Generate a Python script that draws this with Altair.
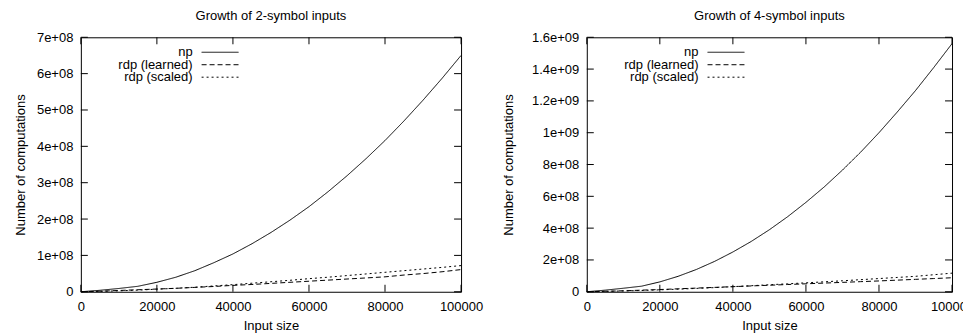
import altair as alt
import pandas as pd

FONT = "Liberation Sans"

x_vals = [0, 5000, 10000, 15000, 20000, 25000, 30000, 35000, 40000, 45000, 50000,
          55000, 60000, 65000, 70000, 75000, 80000, 85000, 90000, 95000, 100000]

# 2-symbol inputs
np_2 = [0, 4e6, 9e6, 1.5e7, 2.6e7, 4.0e7, 5.8e7, 8.0e7, 1.04e8, 1.32e8, 1.63e8,
        1.97e8, 2.34e8, 2.75e8, 3.19e8, 3.66e8, 4.16e8, 4.70e8, 5.27e8, 5.87e8, 6.50e8]
learned_2 = [0, 1.5e6, 3.5e6, 5.5e6, 7.5e6, 9.5e6, 1.2e7, 1.45e7, 1.75e7, 2.0e7, 2.3e7,
             2.6e7, 2.9e7, 3.2e7, 3.5e7, 3.8e7, 4.1e7, 4.6e7, 5.0e7, 5.5e7, 6.1e7]
scaled_2 = [0, 1e6, 2.5e6, 4.5e6, 7e6, 9.5e6, 1.25e7, 1.6e7, 1.95e7, 2.35e7, 2.75e7,
            3.15e7, 3.6e7, 4.0e7, 4.45e7, 4.9e7, 5.35e7, 5.8e7, 6.25e7, 6.7e7, 7.2e7]

# 4-symbol inputs
np_4 = [0, 1.0e7, 2.2e7, 3.5e7, 6.2e7, 9.7e7, 1.40e8, 1.91e8, 2.50e8, 3.16e8, 3.90e8,
        4.72e8, 5.62e8, 6.59e8, 7.65e8, 8.78e8, 1.0e9, 1.13e9, 1.265e9, 1.41e9, 1.56e9]
learned_4 = [0, 3e6, 6e6, 1.0e7, 1.4e7, 1.85e7, 2.3e7, 2.75e7, 3.2e7, 3.65e7, 4.1e7,
             4.55e7, 5.0e7, 5.45e7, 5.9e7, 6.35e7, 6.8e7, 7.3e7, 7.8e7, 8.3e7, 8.8e7]
scaled_4 = [0, 2e6, 5e6, 8e6, 1.2e7, 1.6e7, 2.1e7, 2.6e7, 3.2e7, 3.8e7, 4.4e7,
            5.0e7, 5.6e7, 6.25e7, 6.9e7, 7.6e7, 8.3e7, 9.0e7, 9.7e7, 1.07e8, 1.17e8]

series_names = ["np", "rdp (learned)", "rdp (scaled)"]
dash_styles = [[1, 0], [5, 3], [2, 3]]

x_ticks = [0, 20000, 40000, 60000, 80000, 100000]
y_ticks_2 = [0, 1e8, 2e8, 3e8, 4e8, 5e8, 6e8, 7e8]
y_ticks_4 = [0, 2e8, 4e8, 6e8, 8e8, 1e9, 1.2e9, 1.4e9, 1.6e9]

H = 255
TICK = 7
LABEL_EXPR = "datum.value == 0 ? '0' : replace(format(datum.value, '.2~e'), 'e+', 'e+0')"


def panel(title, series, y_ticks, ymax, W, ytitle_pad):
    rows = []
    for name, vals in zip(series_names, series):
        for xv, yv in zip(x_vals, vals):
            rows.append({"x": xv, "y": yv, "series": name})
    df = pd.DataFrame(rows)
    xs = alt.Scale(domain=[0, 100000], nice=False, zero=False)
    ys = alt.Scale(domain=[0, ymax], nice=False)
    x_axis = alt.Axis(values=x_ticks, title="Input size", ticks=False, grid=False, domain=False,
                      labelFlush=False, labelPadding=9, titlePadding=6, format="d")
    y_axis = alt.Axis(values=y_ticks, title="Number of computations", ticks=False, grid=False,
                      domain=False, labelPadding=8, titlePadding=ytitle_pad, labelExpr=LABEL_EXPR)

    lines = alt.Chart(df).mark_line(color="black", strokeWidth=1).encode(
        x=alt.X("x:Q", scale=xs, axis=x_axis),
        y=alt.Y("y:Q", scale=ys, axis=y_axis),
        strokeDash=alt.StrokeDash("series:N", scale=alt.Scale(domain=series_names, range=dash_styles),
                                  legend=None),
    )

    dxt = pd.DataFrame({"x": x_ticks})
    dyt = pd.DataFrame({"y": y_ticks})
    xb = alt.Chart(dxt).mark_rule(color="black", strokeWidth=1).encode(
        x=alt.X("x:Q", scale=xs, axis=x_axis), y=alt.value(H), y2=alt.value(H - TICK))
    xt = alt.Chart(dxt).mark_rule(color="black", strokeWidth=1).encode(
        x=alt.X("x:Q", scale=xs, axis=x_axis), y=alt.value(0), y2=alt.value(TICK))
    yl = alt.Chart(dyt).mark_rule(color="black", strokeWidth=1).encode(
        y=alt.Y("y:Q", scale=ys, axis=y_axis), x=alt.value(0), x2=alt.value(TICK))
    yr = alt.Chart(dyt).mark_rule(color="black", strokeWidth=1).encode(
        y=alt.Y("y:Q", scale=ys, axis=y_axis), x=alt.value(W), x2=alt.value(W - TICK))

    legend_layers = []
    for i, (name, dash) in enumerate(zip(series_names, dash_styles)):
        yy = 15 + 12.5 * i
        ld = pd.DataFrame({"label": [name]})
        legend_layers.append(
            alt.Chart(ld).mark_text(align="right", baseline="middle", font=FONT,
                                    fontSize=13, color="black").encode(
                text="label:N", x=alt.value(112), y=alt.value(yy)))
        legend_layers.append(
            alt.Chart(ld).mark_rule(color="black", strokeWidth=1, strokeDash=dash).encode(
                x=alt.value(121), x2=alt.value(158), y=alt.value(yy)))

    return alt.layer(lines, xb, xt, yl, yr, *legend_layers).properties(
        width=W, height=H,
        title=alt.TitleParams(title, anchor="middle", frame="group", offset=8,
                              font=FONT, fontSize=13, fontWeight="normal", color="black"),
    )


left = panel("Growth of 2-symbol inputs", [np_2, learned_2, scaled_2], y_ticks_2, 7e8, 381, 9)
right = panel("Growth of 4-symbol inputs", [np_4, learned_4, scaled_4], y_ticks_4, 1.6e9, 366, 16)

chart = alt.hconcat(
    left, right, spacing=18, background="white",
    padding={"top": 1, "left": 5, "right": -12, "bottom": 5},
).configure_axis(
    labelFont=FONT, titleFont=FONT, labelFontSize=13, titleFontSize=13,
    titleFontWeight="normal", labelColor="black", titleColor="black",
).configure_title(
    font=FONT, fontSize=13, fontWeight="normal", color="black",
).configure_view(
    stroke="black", strokeWidth=1,
)

chart.save("out.html", embed_options={"renderer": "svg", "actions": False})
